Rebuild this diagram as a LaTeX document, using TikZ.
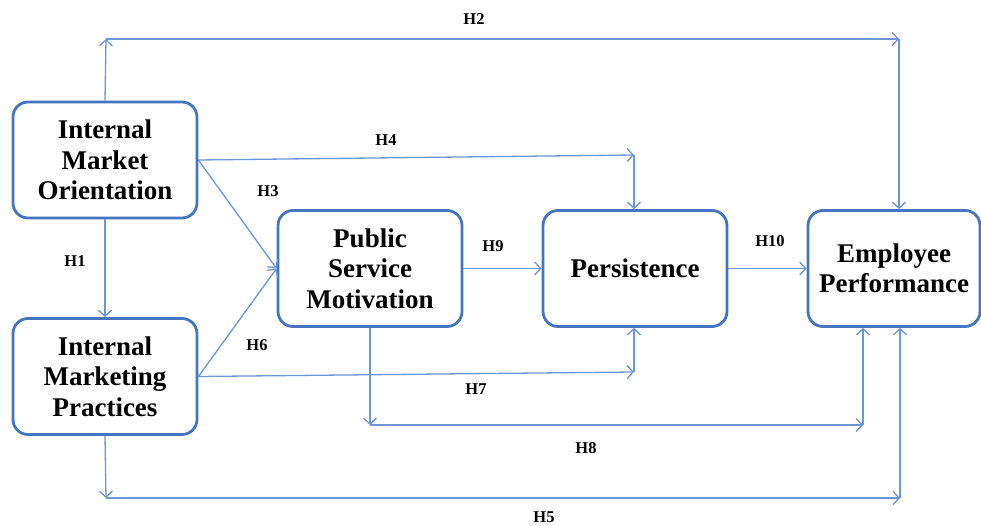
\documentclass[tikz,border=0pt]{standalone}
\usepackage{fontspec}
\setmainfont{Liberation Serif}
\usepackage{tikz}
\usepackage{xcolor}
\usetikzlibrary{arrows.meta}
\definecolor{boxblue}{RGB}{70,116,192}
\definecolor{linkblue}{RGB}{108,150,214}

\begin{document}
\begin{tikzpicture}[x=1pt,y=-1pt,
    box/.style={draw=boxblue, line width=2.8pt, rounded corners=15pt, fill=white,
        minimum width=184pt, minimum height=116pt, align=center,
        font=\fontsize{27}{30.5}\selectfont\bfseries},
    link/.style={draw=linkblue, line width=1.3pt, -{Straight Barb[length=6pt,width=13pt]}},
    hyp/.style={font=\fontsize{16.5}{18}\selectfont\bfseries}]
                \useasboundingbox (0,0) rectangle (981,526);
                % constructs
                \node[box] (IMO) at (105,160) {Internal\\Market\\Orientation};
                \node[box] (IMP) at (105,376.5) {Internal\\Marketing\\Practices};
                \node[box] (PSM) at (370,268.5) {Public\\Service\\Motivation};
                \node[box] (Pers) at (635,268.5) {Persistence};
                \node[box, minimum width=172pt] (EP) at (894,268.5) {Employee\\Performance};
                % elbow corners
                \coordinate (h2a) at (106,39);
                \coordinate (h2b) at (899,39);
                \coordinate (h4a) at (634,155);
                \coordinate (h7a) at (634,372);
                \coordinate (h8a) at (370,425);
                \coordinate (h8b) at (863,425);
                \coordinate (h5a) at (106,498);
                \coordinate (h5b) at (900,498);
                % hypotheses
                \draw[link] (IMO.south) -- (IMP.north);
                \draw[link] (IMO.north) -- (h2a);
                \draw[link] (h2a) -- (h2b);
                \draw[link] (h2b) -- (h2b |- EP.north);
                \draw[link] (IMO.east) -- (PSM.west);
                \draw[link] (IMO.east) -- (h4a);
                \draw[link] (h4a) -- (h4a |- Pers.north);
                \draw[link] (IMP.east) -- (PSM.west);
                \draw[link] (IMP.east) -- (h7a);
                \draw[link] (h7a) -- (h7a |- Pers.south);
                \draw[link] (PSM.south) -- (h8a);
                \draw[link] (h8a) -- (h8b);
                \draw[link] (h8b) -- (h8b |- EP.south);
                \draw[link] (IMP.south) -- (h5a);
                \draw[link] (h5a) -- (h5b);
                \draw[link] (h5b) -- (h5b |- EP.south);
                \draw[link] (PSM.east) -- (Pers.west);
                \draw[link] (Pers.east) -- (EP.west);
                % labels
                \node[hyp] (lH1) at (75,261) {H1};
                \node[hyp] (lH2) at (474,19) {H2};
                \node[hyp] (lH3) at (268,191) {H3};
                \node[hyp] (lH4) at (386,140) {H4};
                \node[hyp] (lH5) at (544,517) {H5};
                \node[hyp] (lH6) at (257,345) {H6};
                \node[hyp] (lH7) at (476,389) {H7};
                \node[hyp] (lH8) at (586,448) {H8};
                \node[hyp] (lH9) at (493,246) {H9};
                \node[hyp] (lH10) at (770,241) {H10};
            \end{tikzpicture}
\end{document}
